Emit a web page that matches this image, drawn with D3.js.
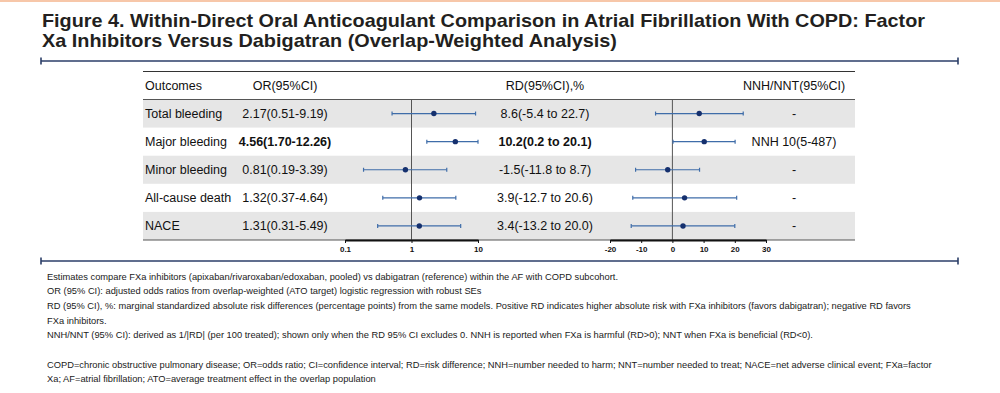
<!DOCTYPE html>
<html>
<head>
<meta charset="utf-8">
<script src="https://cdn.jsdelivr.net/npm/d3@7"></script>
<style>
  body { margin: 0; background: #fff; }
  svg { display: block; font-family: "Liberation Sans", Arial, sans-serif; }
</style>
</head>
<body>
<svg id="chart" width="1000" height="393"></svg>
<script>
'use strict';

// data
var outcomes = ['Total bleeding', 'Major bleeding', 'Minor bleeding', 'All-cause death', 'NACE'];
var orEst = [2.17, 4.56, 0.81, 1.32, 1.31];
var orLow = [0.51, 1.70, 0.19, 0.37, 0.31];
var orHigh = [9.19, 12.26, 3.39, 4.64, 5.49];
var rdEst = [8.6, 10.2, -1.5, 3.9, 3.4];
var rdLow = [-5.4, 0.2, -11.8, -12.7, -13.2];
var rdHigh = [22.7, 20.1, 8.7, 20.6, 20.0];
var nnhText = ['-', 'NNH 10(5-487)', '-', '-', '-'];
var orTicks = [0.1, 1, 10];
var rdTicks = [-20, -10, 0, 10, 20, 30];
var headers = ['Outcomes', 'OR(95%CI)', 'RD(95%CI),%', 'NNH/NNT(95%CI)'];

var titleLines = [
  'Figure 4. Within-Direct Oral Anticoagulant Comparison in Atrial Fibrillation With COPD: Factor',
  'Xa Inhibitors Versus Dabigatran (Overlap-Weighted Analysis)'
];
var notes = [
  'Estimates compare FXa inhibitors (apixaban/rivaroxaban/edoxaban, pooled) vs dabigatran (reference) within the AF with COPD subcohort.',
  'OR (95% CI): adjusted odds ratios from overlap-weighted (ATO target) logistic regression with robust SEs',
  'RD (95% CI), %: marginal standardized absolute risk differences (percentage points) from the same models. Positive RD indicates higher absolute risk with FXa inhibitors (favors dabigatran); negative RD favors',
  'FXa inhibitors.',
  'NNH/NNT (95% CI): derived as 1/|RD| (per 100 treated); shown only when the RD 95% CI excludes 0. NNH is reported when FXa is harmful (RD>0); NNT when FXa is beneficial (RD<0).',
  '',
  'COPD=chronic obstructive pulmonary disease; OR=odds ratio; CI=confidence interval; RD=risk difference; NNH=number needed to harm; NNT=number needed to treat; NACE=net adverse clinical event; FXa=factor',
  'Xa; AF=atrial fibrillation; ATO=average treatment effect in the overlap population'
];

var svg = d3.select('#chart');
var navy = '#2b3e68';
var ciColor = '#3f6da9';
var dotColor = '#15306e';

// peach strip on top
svg.append('rect').attr('x', 0).attr('y', 0).attr('width', 1000).attr('height', 2).attr('fill', '#f7c7a9');

// title
var titleWidths = [883, 575];
titleLines.forEach(function(t, i) {
  svg.append('text')
    .attr('x', 42).attr('y', 27 + i * 20)
    .attr('font-size', 19).attr('font-weight', 'bold')
    .attr('fill', '#231f20')
    .attr('textLength', titleWidths[i]).attr('lengthAdjust', 'spacingAndGlyphs')
    .text(t);
});

function rule(y) {
  svg.append('line').attr('x1', 41).attr('x2', 958).attr('y1', y).attr('y2', y)
    .attr('stroke', navy).attr('stroke-width', 1.6);
  [41, 958].forEach(function(x) {
    svg.append('line').attr('x1', x).attr('x2', x).attr('y1', y - 3.5).attr('y2', y + 3.5)
      .attr('stroke', navy).attr('stroke-width', 1.6);
  });
}
rule(61);
rule(261);

// table geometry
var tableLeft = 143, tableRight = 855;
var headTop = 71.5, headBottom = 99.5, rowH = 28.1;
var y = d3.scaleBand().domain(outcomes).range([headBottom, headBottom + rowH * outcomes.length]);
var tableBottom = headBottom + rowH * outcomes.length;

var orX = d3.scaleLog().domain([0.1, 10]).range([345, 478]).clamp(true);
var rdX = d3.scaleLinear().domain([-20, 30]).range([610, 766]).clamp(true);

var colOutcome = 145, colOR = 285, colRD = 545, colNNH = 794;

// row bands
outcomes.forEach(function(o, i) {
  if (i % 2 === 0) {
    svg.append('rect').attr('x', tableLeft).attr('y', y(o))
      .attr('width', tableRight - tableLeft).attr('height', y.bandwidth())
      .attr('fill', '#e6e6e6');
  }
});

// table lines
svg.append('line').attr('x1', tableLeft).attr('x2', tableRight).attr('y1', headTop).attr('y2', headTop)
  .attr('stroke', '#333').attr('stroke-width', 1);
svg.append('line').attr('x1', tableLeft).attr('x2', tableRight).attr('y1', headBottom).attr('y2', headBottom)
  .attr('stroke', '#555').attr('stroke-width', 1);
svg.append('line').attr('x1', tableLeft).attr('x2', tableRight).attr('y1', tableBottom).attr('y2', tableBottom)
  .attr('stroke', '#555').attr('stroke-width', 1);

// reference lines
svg.append('line').attr('x1', orX(1)).attr('x2', orX(1)).attr('y1', headBottom).attr('y2', tableBottom)
  .attr('stroke', '#555').attr('stroke-width', 1);
svg.append('line').attr('x1', rdX(0)).attr('x2', rdX(0)).attr('y1', headBottom).attr('y2', tableBottom)
  .attr('stroke', '#555').attr('stroke-width', 1);

// header text
var headX = [colOutcome, colOR, colRD, colNNH];
headers.forEach(function(h, i) {
  svg.append('text')
    .attr('x', headX[i]).attr('y', 89.5)
    .attr('font-size', 12.5).attr('fill', '#111')
    .attr('text-anchor', i === 0 ? 'start' : 'middle')
    .text(h);
});

// rows
outcomes.forEach(function(o, i) {
  var cy = y(o) + y.bandwidth() / 2;
  var sig = nnhText[i] !== '-';
  var weight = sig ? 'bold' : 'normal';

  svg.append('text').attr('x', colOutcome).attr('y', cy + 4.5)
    .attr('font-size', 12.5).attr('fill', '#111').text(o);

  svg.append('text').attr('x', colOR).attr('y', cy + 4.5)
    .attr('font-size', 12.5).attr('fill', '#111').attr('text-anchor', 'middle')
    .attr('font-weight', weight)
    .text(orEst[i].toFixed(2) + '(' + orLow[i].toFixed(2) + '-' + orHigh[i].toFixed(2) + ')');

  svg.append('text').attr('x', colRD).attr('y', cy + 4.5)
    .attr('font-size', 12.5).attr('fill', '#111').attr('text-anchor', 'middle')
    .attr('font-weight', weight)
    .text(rdEst[i].toFixed(1) + '(' + rdLow[i].toFixed(1) + ' to ' + rdHigh[i].toFixed(1) + ')');

  svg.append('text').attr('x', colNNH).attr('y', cy + 4.5)
    .attr('font-size', 12.5).attr('fill', '#111').attr('text-anchor', 'middle')
    .text(nnhText[i]);

  // forest marks
  [[orX, orLow[i], orHigh[i], orEst[i]], [rdX, rdLow[i], rdHigh[i], rdEst[i]]].forEach(function(m) {
    var sc = m[0], x1 = sc(m[1]), x2 = sc(m[2]);
    svg.append('line').attr('x1', x1).attr('x2', x2).attr('y1', cy).attr('y2', cy)
      .attr('stroke', ciColor).attr('stroke-width', 1.2);
    [x1, x2].forEach(function(x) {
      svg.append('line').attr('x1', x).attr('x2', x).attr('y1', cy - 2).attr('y2', cy + 2)
        .attr('stroke', ciColor).attr('stroke-width', 1.2);
    });
    svg.append('circle').attr('cx', sc(m[3])).attr('cy', cy).attr('r', 2.7).attr('fill', dotColor);
  });
});

// axes
function drawAxis(axis) {
  var g = svg.append('g').attr('transform', 'translate(0,' + tableBottom + ')').call(axis);
  g.select('.domain').attr('stroke', '#111').attr('stroke-width', 1.8);
  g.selectAll('.tick line').attr('stroke', '#111');
  g.selectAll('.tick text').attr('font-size', 8).attr('font-weight', 'bold')
    .attr('font-family', '"Liberation Sans", Arial, sans-serif').attr('fill', '#111');
}
drawAxis(d3.axisBottom(orX).tickValues(orTicks).tickSize(3).tickSizeOuter(0).tickPadding(3)
  .tickFormat(function(d) { return String(d); }));
drawAxis(d3.axisBottom(rdX).tickValues(rdTicks).tickSize(3).tickSizeOuter(0).tickPadding(3)
  .tickFormat(function(d) { return String(d); }));

// footnotes, squeezed to the measured width of the first line
var noteG = svg.append('g');
var noteNodes = notes.map(function(t, i) {
  return noteG.append('text').attr('x', 47).attr('y', 279.5 + i * 14.7)
    .attr('font-size', 9.8).attr('fill', '#1a1a1a').text(t);
});
var factor = 571 / noteNodes[0].node().getComputedTextLength();
noteNodes.forEach(function(n) {
  if (n.text()) {
    n.attr('textLength', n.node().getComputedTextLength() * factor).attr('lengthAdjust', 'spacingAndGlyphs');
  }
});
</script>
</body>
</html>
